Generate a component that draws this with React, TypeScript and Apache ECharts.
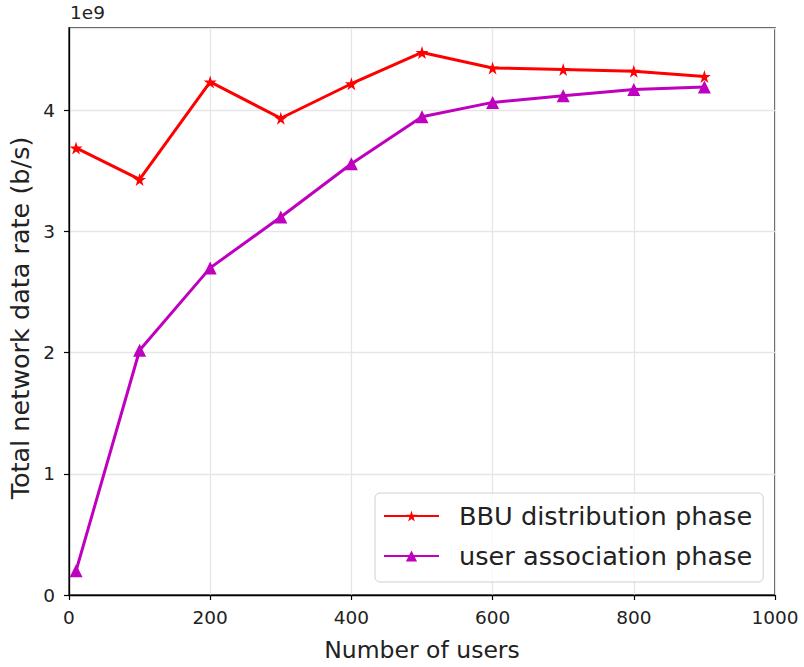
import React, { useEffect, useRef } from "react";
import * as echarts from "echarts";

const users = [10, 100, 200, 300, 400, 500, 600, 700, 800, 900];
const bbuRate = [3.69, 3.43, 4.235, 3.935, 4.22, 4.478, 4.35, 4.338, 4.323, 4.28];
const assocRate = [0.2, 2.02, 2.7, 3.12, 3.56, 3.948, 4.066, 4.12, 4.173, 4.192];
const xTicks = { min: 0, max: 1000, interval: 200 };
const yTicks = { min: 0, max: 4.68, interval: 1 };

const STAR = "path://M50,0 L61,35 L98,35 L68,57 L79,91 L50,70 L21,91 L32,57 L2,35 L39,35 Z";
const FONT = "DejaVu Sans";

export default function App() {
  const ref = useRef<HTMLDivElement>(null);
  useEffect(() => {
    if (!ref.current) return;
    const chart = echarts.init(ref.current, undefined, { renderer: "svg" });
    chart.setOption({
      animation: false,
      textStyle: { fontFamily: FONT },
      grid: {
        left: 69,
        right: 29,
        top: 28,
        bottom: 70,
        show: true,
        borderColor: "#000",
        borderWidth: 1.3,
        backgroundColor: "#fff",
      },
      graphic: [
        {
          type: "text",
          left: 70,
          top: 3,
          style: { text: "1e9", fontSize: 18.5, fill: "#222", fontFamily: FONT },
        },
        {
          type: "text",
          x: 20,
          y: 318,
          rotation: Math.PI / 2,
          style: {
            text: "Total network data rate (b/s)",
            fontSize: 25.5,
            fill: "#222",
            fontFamily: FONT,
            align: "center",
            verticalAlign: "middle",
          },
        },
      ],
      legend: {
        left: 375,
        top: 493,
        orient: "vertical",
        backgroundColor: "rgba(255,255,255,0.8)",
        borderColor: "#d0d0d0",
        borderWidth: 1,
        borderRadius: 5,
        padding: [10, 11, 13, 8],
        itemGap: 14,
        itemWidth: 55,
        itemHeight: 14,
        textStyle: { fontSize: 25.6, color: "#222", fontFamily: FONT, padding: [0, 0, 0, 15] },
        data: ["BBU distribution phase", "user association phase"],
      },
      xAxis: {
        type: "value",
        min: xTicks.min,
        max: xTicks.max,
        interval: xTicks.interval,
        name: "Number of users",
        nameLocation: "middle",
        nameGap: 43,
        nameTextStyle: { fontSize: 23.5, color: "#222", fontFamily: FONT },
        axisLine: { show: true, lineStyle: { color: "#000", width: 1.3 } },
        axisTick: { show: true, length: 5, lineStyle: { color: "#000", width: 1.2 } },
        axisLabel: {
          fontSize: 18.5,
          color: "#222",
          margin: 13,
          fontFamily: FONT,
          formatter: (v: number) => String(v),
        },
        splitLine: { show: true, lineStyle: { color: "#e6e6e6", width: 1.3 } },
      },
      yAxis: {
        type: "value",
        min: yTicks.min,
        max: yTicks.max,
        interval: yTicks.interval,
        axisLine: { show: true, lineStyle: { color: "#000", width: 1.3 } },
        axisTick: { show: true, length: 5, lineStyle: { color: "#000", width: 1.2 } },
        axisLabel: {
          fontSize: 18.5,
          color: "#222",
          margin: 14,
          fontFamily: FONT,
          showMaxLabel: false,
          formatter: (v: number) => (Number.isInteger(v) ? String(v) : ""),
        },
        splitLine: { show: true, lineStyle: { color: "#e6e6e6", width: 1.3 } },
      },
      series: [
        {
          name: "BBU distribution phase",
          type: "line",
          data: users.map((u, i) => [u, bbuRate[i]]),
          symbol: STAR,
          symbolSize: 13,
          lineStyle: { color: "#ff0000", width: 3 },
          itemStyle: { color: "#ff0000" },
          z: 3,
        },
        {
          name: "user association phase",
          type: "line",
          data: users.map((u, i) => [u, assocRate[i]]),
          symbol: "triangle",
          symbolSize: 13,
          lineStyle: { color: "#bf00bf", width: 3 },
          itemStyle: { color: "#bf00bf" },
          z: 3,
        },
      ],
    });
    return () => chart.dispose();
  }, []);
  return <div ref={ref} style={{ width: 804, height: 667, position: "absolute", left: 0, top: 0 }} />;
}
